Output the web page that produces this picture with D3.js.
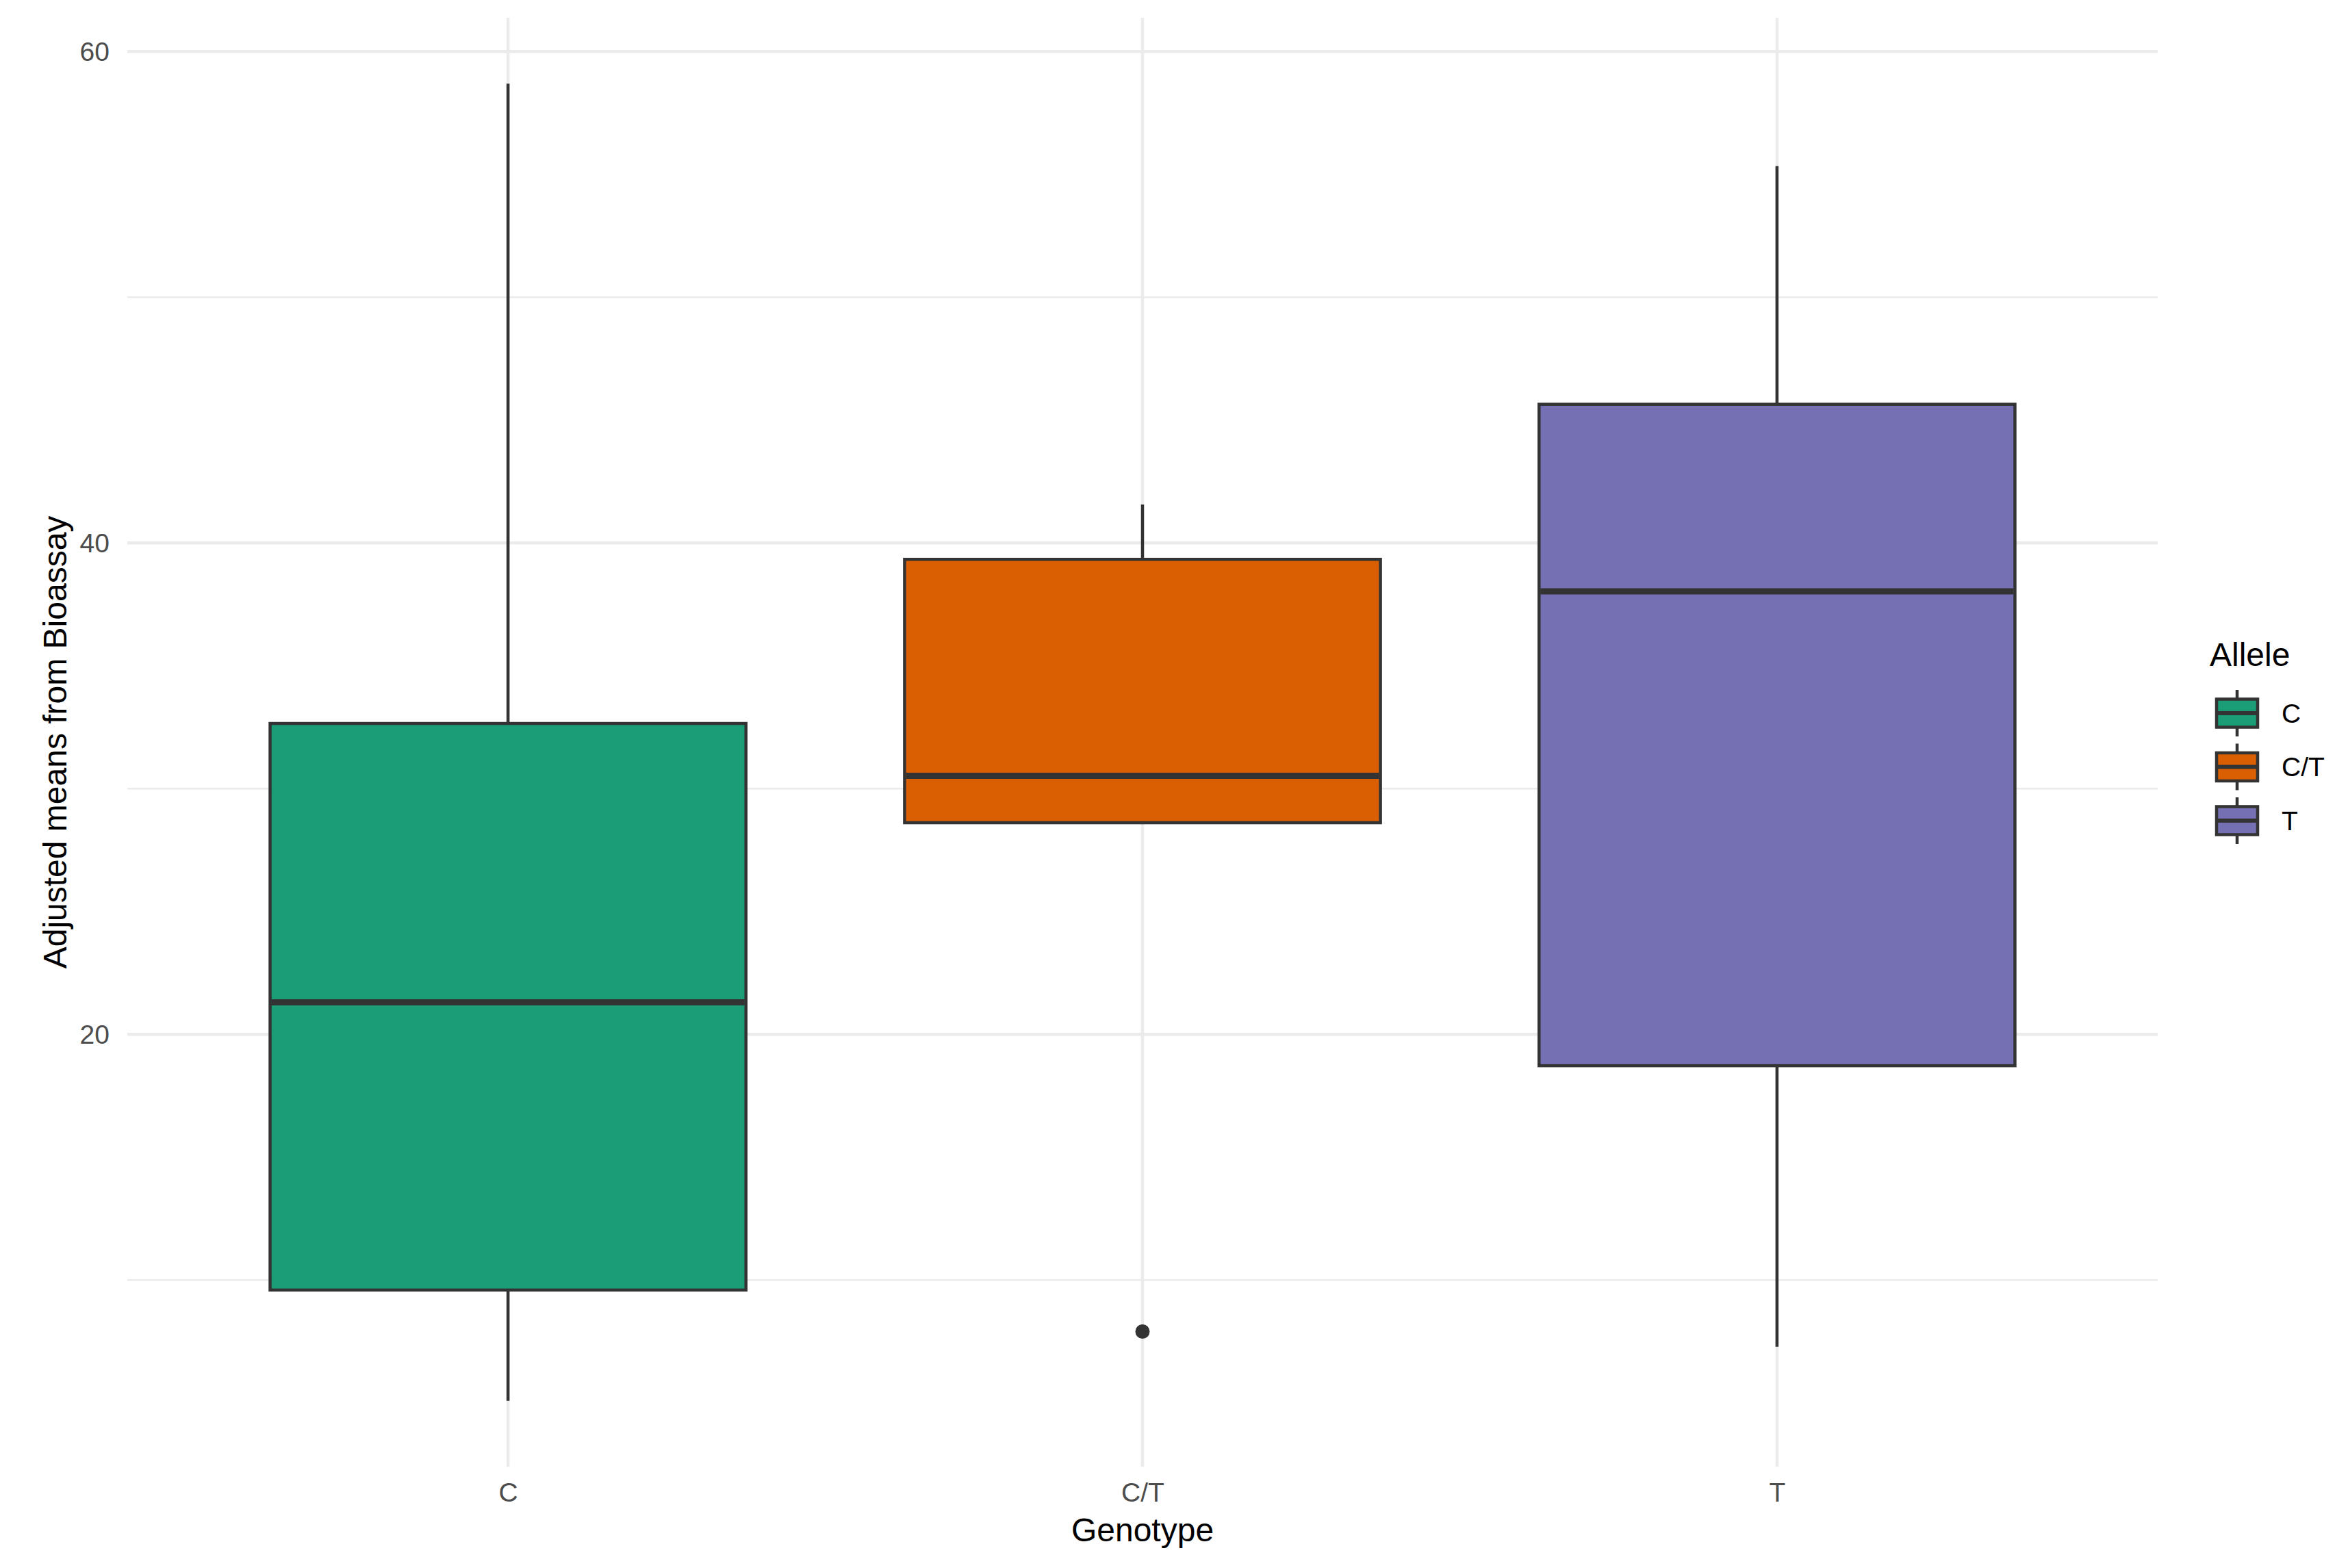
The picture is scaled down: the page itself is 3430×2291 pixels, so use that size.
<!DOCTYPE html>
<html>
<head>
<meta charset="utf-8">
<script src="https://cdn.jsdelivr.net/npm/d3@7"></script>
<style>
  html, body { margin: 0; padding: 0; background: #ffffff; }
  svg { display: block; font-family: "Liberation Sans", Arial, Helvetica, sans-serif; }
</style>
</head>
<body>
<svg id="chart" width="3430" height="2291"></svg>
<script>
// ---- Data ----
const genotypes   = ["C", "C/T", "T"];
const whiskerLow  = [5.08, 28.61, 7.28];
const q1          = [9.59, 28.61, 18.72];
const medians     = [21.3, 30.52, 38.03];
const q3          = [32.65, 39.33, 45.64];
const whiskerHigh = [58.69, 41.56, 55.33];
const outliers    = [[], [7.9], []];
const fillColors  = ["#1B9E77", "#D95F02", "#7570B3"];
const yMajorTicks = [20, 40, 60];
const yMinorTicks = [10, 30, 50];
const xTitle = "Genotype";
const yTitle = "Adjusted means from Bioassay";
const legendTitle = "Allele";

// ---- Layout ----
const W = 3430, H = 2291;
const panel = { left: 186, right: 3152, top: 26, bottom: 2143 };
const svg = d3.select("#chart");

const allVals = whiskerLow.concat(whiskerHigh, outliers.flat());
const vMin = d3.min(allVals), vMax = d3.max(allVals);
const pad = (vMax - vMin) * 0.05;

const y = d3.scaleLinear().domain([vMin - pad, vMax + pad]).range([panel.bottom, panel.top]);
const x = d3.scalePoint().domain(genotypes).range([panel.left, panel.right]).padding(0.6);
const boxW = x.step() * 0.75;

const data = genotypes.map((g, i) => ({
  g, lo: whiskerLow[i], q1: q1[i], med: medians[i], q3: q3[i], hi: whiskerHigh[i],
  out: outliers[i], fill: fillColors[i]
}));

// ---- Grid ----
const grid = svg.append("g");
grid.selectAll("line.minor").data(yMinorTicks).join("line")
  .attr("x1", panel.left).attr("x2", panel.right)
  .attr("y1", d => y(d)).attr("y2", d => y(d))
  .attr("stroke", "#EBEBEB").attr("stroke-width", 2.5);
grid.selectAll("line.majy").data(yMajorTicks).join("line")
  .attr("x1", panel.left).attr("x2", panel.right)
  .attr("y1", d => y(d)).attr("y2", d => y(d))
  .attr("stroke", "#EBEBEB").attr("stroke-width", 4.5);
grid.selectAll("line.majx").data(genotypes).join("line")
  .attr("x1", d => x(d)).attr("x2", d => x(d))
  .attr("y1", panel.top).attr("y2", panel.bottom)
  .attr("stroke", "#EBEBEB").attr("stroke-width", 4.5);

// ---- Boxplots ----
const stroke = "#333333";
const boxes = svg.append("g").selectAll("g").data(data).join("g");
// whiskers
boxes.append("line")
  .attr("x1", d => x(d.g)).attr("x2", d => x(d.g))
  .attr("y1", d => y(d.hi)).attr("y2", d => y(d.q3))
  .attr("stroke", stroke).attr("stroke-width", 4.5);
boxes.append("line")
  .attr("x1", d => x(d.g)).attr("x2", d => x(d.g))
  .attr("y1", d => y(d.q1)).attr("y2", d => y(d.lo))
  .attr("stroke", stroke).attr("stroke-width", 4.5);
// box
boxes.append("rect")
  .attr("x", d => x(d.g) - boxW / 2).attr("width", boxW)
  .attr("y", d => y(d.q3)).attr("height", d => y(d.q1) - y(d.q3))
  .attr("fill", d => d.fill).attr("stroke", stroke).attr("stroke-width", 4.5);
// median
boxes.append("line")
  .attr("x1", d => x(d.g) - boxW / 2 + 2).attr("x2", d => x(d.g) + boxW / 2 - 2)
  .attr("y1", d => y(d.med)).attr("y2", d => y(d.med))
  .attr("stroke", stroke).attr("stroke-width", 9);
// outliers
boxes.selectAll("circle").data(d => d.out.map(v => ({ g: d.g, v }))).join("circle")
  .attr("cx", d => x(d.g)).attr("cy", d => y(d.v)).attr("r", 10.5)
  .attr("fill", stroke);

// ---- Axes (labels only, as in theme_minimal) ----
const yAxis = svg.append("g").attr("transform", `translate(${panel.left - 26},0)`)
  .call(d3.axisLeft(y).tickValues(yMajorTicks).tickSize(0).tickPadding(0).tickFormat(d3.format("d")));
yAxis.select(".domain").remove();
yAxis.selectAll("text").attr("font-size", 39).attr("fill", "#4D4D4D")
  .attr("font-family", "'Liberation Sans', Arial, sans-serif").attr("dy", "0.35em");

const xAxis = svg.append("g").attr("transform", `translate(0,${panel.bottom + 22})`)
  .call(d3.axisBottom(x).tickSize(0).tickPadding(0));
xAxis.select(".domain").remove();
xAxis.selectAll("text").attr("font-size", 39).attr("fill", "#4D4D4D")
  .attr("font-family", "'Liberation Sans', Arial, sans-serif").attr("dy", "0.75em");

// ---- Axis titles ----
svg.append("text").attr("x", (panel.left + panel.right) / 2).attr("y", 2252)
  .attr("text-anchor", "middle").attr("font-size", 48).attr("fill", "#000")
  .text(xTitle);
svg.append("text")
  .attr("transform", `translate(97,${(panel.top + panel.bottom) / 2}) rotate(-90)`)
  .attr("text-anchor", "middle").attr("font-size", 48).attr("fill", "#000")
  .text(yTitle);

// ---- Legend ----
const lg = svg.append("g");
lg.append("text").attr("x", 3228).attr("y", 973).attr("font-size", 48).attr("fill", "#000")
  .text(legendTitle);
const keyCY = d3.scalePoint().domain(genotypes).range([1042, 1199]);
const keys = lg.selectAll("g.key").data(data).join("g")
  .attr("transform", d => `translate(3268,${keyCY(d.g)})`);
keys.append("line").attr("x1", 0).attr("x2", 0).attr("y1", -34).attr("y2", 34)
  .attr("stroke", stroke).attr("stroke-width", 4.5);
keys.append("rect").attr("x", -30).attr("y", -20.5).attr("width", 60).attr("height", 41)
  .attr("fill", d => d.fill).attr("stroke", stroke).attr("stroke-width", 4.5);
keys.append("line").attr("x1", -30).attr("x2", 30).attr("y1", 0).attr("y2", 0)
  .attr("stroke", stroke).attr("stroke-width", 6);
keys.append("text").attr("x", 65).attr("y", 0).attr("dy", "0.35em")
  .attr("font-size", 39).attr("fill", "#000").text(d => d.g);
</script>
</body>
</html>
